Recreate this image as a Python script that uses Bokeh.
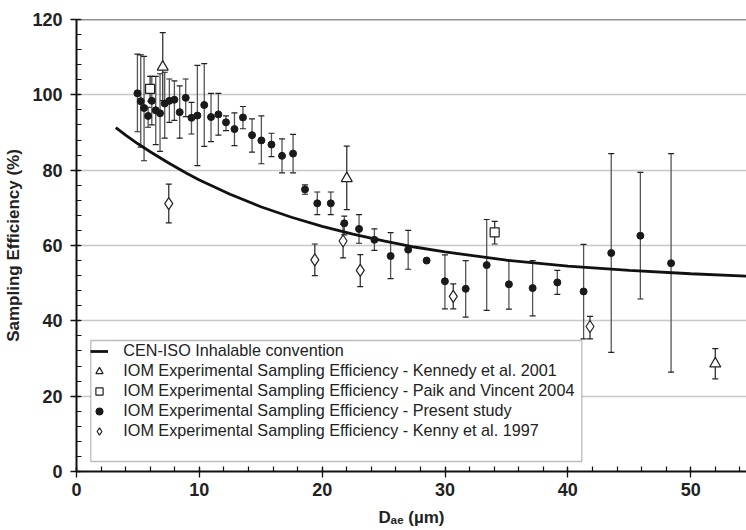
import numpy as np
from bokeh.plotting import figure
from bokeh.models import (Range1d, SingleIntervalTicker, ColumnDataSource, Whisker, TeeHead,
                          Legend, LegendItem, Span, BoxAnnotation)
from bokeh.embed import file_html
from bokeh.resources import INLINE

FONT = "Liberation Sans"
TXT = "#222222"

# CEN-ISO inhalable convention
conv_d = [3.2, 4, 5, 6, 7.5, 9, 10, 12.5, 15, 17.5, 20, 22.5, 25, 27.5, 30, 35, 40, 45, 50, 55]
conv_e = [91.3, 89.3, 87.0, 84.9, 81.9, 79.1, 77.4, 73.6, 70.3, 67.5, 65.1, 63.0, 61.2, 59.6,
          58.3, 56.1, 54.5, 53.4, 52.5, 51.8]

# Present study
ps_d = [4.96, 5.23, 5.5, 5.83, 6.13, 6.45, 6.8, 7.18, 7.56, 7.97, 8.4, 8.89, 9.36, 9.84, 10.4,
        10.95, 11.55, 12.17, 12.86, 13.55, 14.29, 15.05, 15.87, 16.73, 17.63, 18.6, 19.6, 20.7,
        21.8, 23.0, 24.25, 25.57, 27.0, 28.5, 29.99, 31.68, 33.39, 35.2, 37.13, 39.14, 41.28,
        43.53, 45.9, 48.4]
ps_e = [100.4, 98.3, 96.5, 94.4, 98.4, 95.9, 95.1, 97.7, 98.4, 98.7, 95.4, 99.2, 93.9, 94.5, 97.3,
        94.1, 94.8, 92.7, 90.9, 94.0, 89.3, 87.9, 86.8, 83.8, 84.4, 74.9, 71.2, 71.2,
        65.9, 64.4, 61.5, 57.2, 58.9, 56.0, 50.5, 48.5, 54.8, 49.7, 48.7, 50.2, 47.8,
        58.0, 62.6, 55.3]
ps_hi = [110.8, 110.6, 110.2, 96.7, 104.9, 104.9, 105.6, 106.0, 104.2, 103.7, 102.4, 104.2, 98.0,
         107.8, 108.3, 100.4, 100.4, 94.4, 95.2, 96.9, 93.6, 94.4, 89.8, 88.3, 89.5, 76.1, 74.2,
         74.2, 67.8, 68.2, 64.4, 63.4, 64.0, 56.0, 57.5, 56.0, 66.9, 56.0, 56.0, 53.4, 60.3,
         84.4, 79.4, 84.4]
ps_lo = [90.2, 86.1, 82.5, 91.4, 92.0, 86.8, 85.0, 88.5, 92.7, 93.2, 88.5, 94.2, 89.6, 81.2, 86.3,
         87.6, 89.3, 90.5, 86.5, 91.0, 84.8, 81.7, 83.6, 79.3, 79.3, 73.6, 68.2, 68.2,
         62.8, 60.6, 58.7, 51.2, 53.7, 56.0, 43.2, 41.0, 42.8, 43.1, 41.3, 47.0, 35.2,
         31.6, 45.8, 26.4]

# Kennedy et al. 2001
ke_d = [7.02, 22.0, 52.0]
ke_e = [107.4, 77.8, 28.6]
ke_hi = [116.5, 86.4, 32.6]
ke_lo = [98.5, 69.5, 24.6]

# Paik and Vincent 2004
pv_d = [5.99, 34.04]
pv_e = [101.6, 63.5]
pv_hi = [104.9, 66.4]
pv_lo = [98.3, 60.4]

# Kenny et al. 1997
kn_d = [7.51, 19.4, 21.7, 23.1, 30.67, 41.8]
kn_e = [71.1, 56.2, 61.2, 53.4, 46.5, 38.5]
kn_hi = [76.3, 60.4, 65.6, 57.6, 49.8, 41.2]
kn_lo = [66.0, 52.0, 56.7, 49.1, 43.2, 35.2]

x_ticks_interval = 10
y_ticks_interval = 20

p = figure(width=746, height=530, x_range=Range1d(0, 54.54), y_range=Range1d(0, 120),
           output_backend="svg", toolbar_location=None,
           min_border_left=76, min_border_right=0, min_border_top=19, min_border_bottom=59)
p.outline_line_color = None
p.background_fill_color = "white"
p.border_fill_color = "white"

p.xaxis.ticker = SingleIntervalTicker(interval=x_ticks_interval, num_minor_ticks=5)
p.yaxis.ticker = SingleIntervalTicker(interval=y_ticks_interval, num_minor_ticks=5)
p.xgrid.grid_line_color = None
p.ygrid.grid_line_color = "#c8c8c8"
p.ygrid.grid_line_width = 1.5

for ax in (p.xaxis[0], p.yaxis[0]):
    ax.axis_line_color = "#111111"
    ax.axis_line_width = 2
    ax.major_tick_line_color = "#111111"
    ax.major_tick_line_width = 1.3
    ax.minor_tick_line_color = "#111111"
    ax.minor_tick_line_width = 1.2
    ax.major_tick_in = 4
    ax.major_tick_out = 6
    ax.minor_tick_in = 5
    ax.minor_tick_out = 0
    ax.major_label_text_font = FONT
    ax.major_label_text_font_style = "bold"
    ax.major_label_text_font_size = "18px"
    ax.major_label_text_color = TXT
    ax.axis_label_text_font = FONT
    ax.axis_label_text_font_style = "bold"
    ax.axis_label_text_font_size = "17px"
    ax.axis_label_text_color = TXT

p.xaxis.major_label_standoff = 5
p.yaxis.major_label_standoff = 8
p.yaxis.axis_label = "Sampling Efficiency (%)"
p.yaxis.axis_label_standoff = 6
p.xaxis.axis_label = "D\u2090\u2091 (\u00b5m)"
p.xaxis.axis_label_standoff = 9

p.add_layout(Span(location=120, dimension="width", line_color="#222222", line_width=1.5))

def bars(d, e, hi, lo, color):
    src = ColumnDataSource(dict(x=d, y=e, hi=hi, lo=lo))
    w = Whisker(source=src, base="x", upper="hi", lower="lo", dimension="height",
                line_color=color, line_width=1.3, level="underlay",
                upper_head=TeeHead(size=6, line_color="#222222", line_width=1.2),
                lower_head=TeeHead(size=6, line_color="#222222", line_width=1.2))
    p.add_layout(w)
    return src

s_ps = bars(ps_d, ps_e, ps_hi, ps_lo, "#555555")
s_ke = bars(ke_d, ke_e, ke_hi, ke_lo, "#333333")
s_pv = bars(pv_d, pv_e, pv_hi, pv_lo, "#333333")
s_kn = bars(kn_d, kn_e, kn_hi, kn_lo, "#333333")

r_line = p.line(conv_d, conv_e, line_color="#111111", line_width=2.8)
r_ps = p.scatter("x", "y", source=s_ps, marker="circle", size=7, fill_color="#1a1a1a",
                 line_color="#1a1a1a")
r_ke = p.scatter("x", "y", source=s_ke, marker="triangle", size=11, fill_color="white",
                 line_color="#222222", line_width=1.2)
r_pv = p.scatter("x", "y", source=s_pv, marker="square", size=9, fill_color="white",
                 line_color="#222222", line_width=1.2)
r_kn = p.scatter("x", "y", source=s_kn, marker="diamond", size=12,
                 fill_color="white", line_color="#222222", line_width=1.2)

# legend box
box = BoxAnnotation(left=14.3, right=505.3, bottom=10, top=131,
                    left_units="screen", right_units="screen", top_units="screen",
                    bottom_units="screen", fill_color="white", fill_alpha=1.0,
                    line_color="#222222", line_width=1.3)
p.add_layout(box)

legend = Legend(items=[
    LegendItem(label="CEN-ISO Inhalable convention", renderers=[r_line]),
    LegendItem(label="IOM Experimental Sampling Efficiency - Kennedy et al. 2001", renderers=[r_ke]),
    LegendItem(label="IOM Experimental Sampling Efficiency - Paik and Vincent 2004", renderers=[r_pv]),
    LegendItem(label="IOM Experimental Sampling Efficiency - Present study", renderers=[r_ps]),
    LegendItem(label="IOM Experimental Sampling Efficiency - Kenny et al. 1997", renderers=[r_kn]),
], location=(14.3, 30.5))
legend.label_text_font = FONT
legend.label_text_font_size = "16.2px"
legend.label_text_color = TXT
legend.glyph_width = 18
legend.glyph_height = 20
legend.label_height = 19
legend.spacing = 0
legend.padding = 0
legend.margin = 0
legend.label_standoff = 15
legend.border_line_color = None
legend.background_fill_alpha = 0
p.add_layout(legend, "center")

open("out.html", "w").write(file_html(p, INLINE))
